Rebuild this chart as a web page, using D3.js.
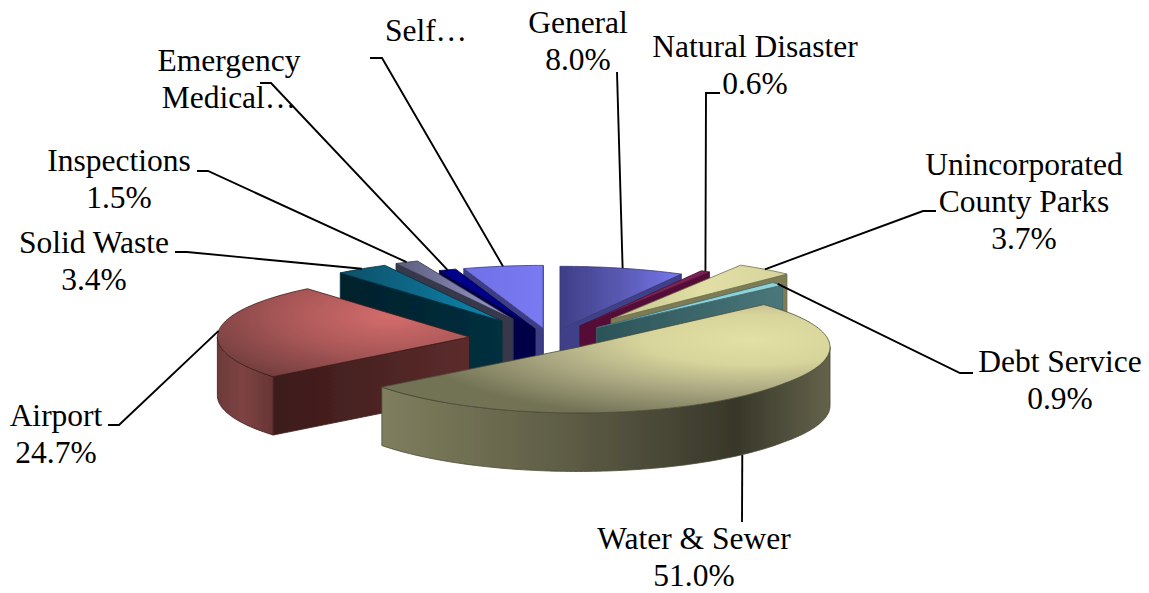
<!DOCTYPE html>
<html>
<head>
<meta charset="utf-8">
<script src="https://cdnjs.cloudflare.com/ajax/libs/d3/7.8.5/d3.min.js"></script>
<style>
html,body{margin:0;padding:0;background:#fff}
svg{display:block}
text{font-family:"Liberation Serif","Times New Roman",serif;font-size:31.5px;fill:#000;text-anchor:middle}
</style>
</head>
<body>
<script>
// ---- data
const categories = ["General","Natural Disaster","Unincorporated County Parks","Debt Service","Water & Sewer","Airport","Solid Waste","Inspections","Emergency Medical…","Self…"];
const shares = [8.0,0.6,3.7,0.9,51.0,24.7,3.4,1.5,1.1,5.1];
const labelLines = [["General","8.0%"],["Natural Disaster","0.6%"],["Unincorporated","County Parks","3.7%"],["Debt Service","0.9%"],["Water & Sewer","51.0%"],["Airport","24.7%"],["Solid Waste","3.4%"],["Inspections","1.5%"],["Emergency","Medical…"],["Self…"]];

// ---- layout / style (not data)
const W = 1149, H = 593;
const cx = 550, cy = 339, R = 252, tilt = 0.25, depth = 58.5, lh = 37;
const explode = [40,60,100,65,43,81,86,87,43,43];
const drawOrder = [9,8,7,6,5,0,1,2,3,4];
const labelX = [578,755,1024,1060,694,56,94,119,229,426];
const labelY = [33,57,175,372,549,426,253,171,71,41];
// elbow: the first points of each leader, before it runs to the slice rim
const elbows = [[[617,72]],[[720,93],[706,93]],[[936,211],[923,211]],[[973,373],[960,373]],[[742,522]],[[108,425],[119,425]],[[175,252],[187,252]],[[197,171],[208,171]],[[260,83],[271,83]],[[370,58],[382,58]]];
const topFill = ["gGeneral","#7d2257","gUninc","#8fd2da","gWater","gAirport","gSolid","gInsp","#00008c","gSelf"];
const edgeFill = ["#3f3f88","#540f38","#7d7c55","gDebtWall","","gAirEdge","gSolidWall","#37374c","#00004a","#3c3c84"];
const rimFill = ["#3f3f88","#540f38","#8a8960","#4c7a7e","gWaterRim","gAirRim","#02232f","#37374c","#00004a","#3c3c84"];
const outline = ["#36367a","#4e1035","#6f6e4c","#3e6a6e","#4a4a36","#3f1a1a","#02303f","#36364a","#00003c","#3a3a80"];

const x = d3.scaleLinear().domain([-1,1]).range([cx-R,cx+R]);
// the nearest part of the plate reads a touch deeper than the rest
const y = d3.scaleLinear().domain([-1.13,-0.7,1]).range([413,cy+0.7*R*tilt,cy-R*tilt]);
const line = d3.line();

const svg = d3.select("body").append("svg").attr("width",W).attr("height",H);
const defs = svg.append("defs");
defs.append("filter").attr("id","soft").attr("x","-5%").attr("y","-5%").attr("width","110%").attr("height","110%")
  .append("feGaussianBlur").attr("stdDeviation",0.45);

function linear(id,x1,y1,x2,y2,stops){
  const g = defs.append("linearGradient").attr("id",id).attr("gradientUnits","userSpaceOnUse")
    .attr("x1",x1).attr("y1",y1).attr("x2",x2).attr("y2",y2);
  stops.forEach(s=>g.append("stop").attr("offset",s[0]).attr("stop-color",s[1]));
}
function radial(id,cxg,cyg,rx,ry,stops){
  const g = defs.append("radialGradient").attr("id",id).attr("gradientUnits","userSpaceOnUse")
    .attr("cx",0).attr("cy",0).attr("r",1)
    .attr("gradientTransform",`translate(${cxg},${cyg}) scale(${rx},${ry})`);
  stops.forEach(s=>g.append("stop").attr("offset",s[0]).attr("stop-color",s[1]));
}
linear("gGeneral",560,0,681,0,[[0,"#3e3e86"],[0.55,"#5c5cb8"],[1,"#7878ee"]]);
linear("gSelf",463,0,543,0,[[0,"#6f6fe6"],[1,"#7a7af2"]]);
linear("gUninc",620,0,787,0,[[0,"#c9c690"],[0.5,"#e2dfa6"],[1,"#d6d39c"]]);
radial("gWater",750,340,345,82,[[0,"#e3e0a4"],[0.3,"#d8d59c"],[0.6,"#aeab84"],[1,"#727255"]]);
radial("gAirport",390,316,205,72,[[0,"#d46c6c"],[0.5,"#ab5858"],[1,"#753f3f"]]);
linear("gSolid",345,0,480,0,[[0,"#0b5068"],[1,"#0f80a8"]]);
linear("gInsp",400,0,510,0,[[0,"#5e5e80"],[1,"#9c9ccc"]]);
linear("gWaterRim",383,0,830,0,[[0,"#7f7e5e"],[0.42,"#5d5c45"],[0.79,"#38372a"],[1,"#64634b"]]);
linear("gAirRim",218,0,272,0,[[0,"#6c3a3a"],[0.45,"#7e4343"],[1,"#683535"]]);
linear("gAirEdge",272,0,470,0,[[0,"#3c1a1a"],[1,"#5c2c2c"]]);
linear("gSolidWall",340,0,502,0,[[0,"#01202b"],[1,"#02303f"]]);
linear("gDebtWall",597,0,783,0,[[0,"#2b5357"],[1,"#4a777b"]]);

const arcs = d3.pie().sort(null).value(d=>d)(shares);
const TAU = Math.PI*2;

// slices: the apex is pushed out along the mid-angle by the explode amount
const slices = arcs.map((a,i)=>{
  const mid = (a.startAngle+a.endAngle)/2, e = explode[i]/R;
  return {i,a0:a.startAngle,a1:a.endAngle,mid,ox:e*Math.sin(mid),oy:e*Math.cos(mid)};
});
const P = (s,ang,r=1,dz=0)=>[x(s.ox+r*Math.sin(ang)),y(s.oy+r*Math.cos(ang))+dz];
const rim = (s,from,to,dz=0)=>{
  const n = Math.max(2,Math.ceil((to-from)/0.02));
  return d3.range(n+1).map(k=>P(s,from+(to-from)*k/n,1,dz));
};
const fillOf = f=>f.startsWith("#")?f:`url(#${f})`;

const pie = svg.append("g").attr("filter","url(#soft)");
drawOrder.forEach(i=>{
  const s = slices[i], g = pie.append("g").attr("class","slice").datum(shares[i]);
  const apex = P(s,0,0), apexB = P(s,0,0,depth);
  const wall = (ang)=>{
    const c = P(s,ang), cB = P(s,ang,1,depth);
    g.append("path").attr("d",line([apex,c,cB,apexB])+"Z")
      .attr("fill",fillOf(edgeFill[i]||rimFill[i])).attr("stroke",outline[i]).attr("stroke-width",0.8).attr("stroke-linejoin","round");
  };
  if (Math.sin(s.a0)<0) wall(s.a0);
  if (Math.sin(s.a1)>0) wall(s.a1);
  const from = Math.max(s.a0,TAU/4), to = Math.min(s.a1,TAU*3/4);
  if (to>from){
    const upper = rim(s,from,to), lower = rim(s,from,to,depth).reverse();
    g.append("path").attr("d",line(upper.concat(lower))+"Z")
      .attr("fill",fillOf(rimFill[i])).attr("stroke",outline[i]).attr("stroke-width",0.8).attr("stroke-linejoin","round");
  }
  g.append("path").attr("d",line([apex].concat(rim(s,s.a0,s.a1)))+"Z")
    .attr("fill",fillOf(topFill[i])).attr("stroke",outline[i]).attr("stroke-width",0.8).attr("stroke-linejoin","round");
});

// leaders end on the rim at the slice's mid-angle
const leaders = svg.append("g").attr("fill","none").attr("stroke","#000").attr("stroke-width",1.9);
slices.forEach(s=>{
  const front = Math.cos(s.mid)<0;
  const end = P(s,s.mid,1,front && Math.abs(Math.sin(s.mid))<0.8 ? depth : 0);
  leaders.append("path").attr("d",line(elbows[s.i].concat([end])));
});

// labels
const labels = svg.append("g");
labelLines.forEach((ls,i)=>{
  const t = labels.append("text").attr("x",labelX[i]).attr("y",labelY[i]);
  ls.forEach((l,k)=>t.append("tspan").attr("x",labelX[i]).attr("y",labelY[i]+k*lh).text(l));
});
</script>
</body>
</html>
